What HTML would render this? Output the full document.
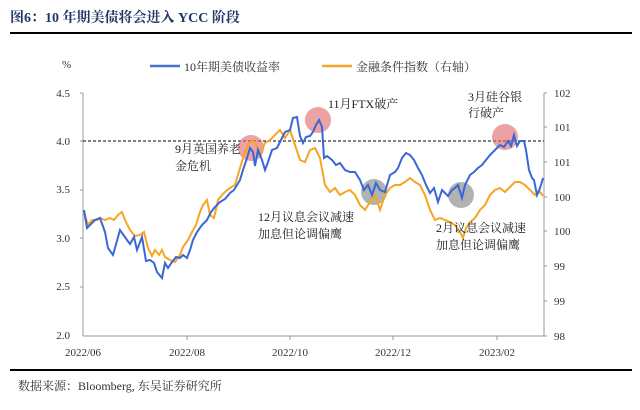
<!DOCTYPE html><html><head><meta charset="utf-8"><style>
body{margin:0;background:#fff;width:640px;height:405px;overflow:hidden;font-family:"Liberation Serif","Noto Serif CJK SC",serif}
</style></head><body>
<svg width="640" height="405" xmlns="http://www.w3.org/2000/svg" font-family="Liberation Serif, Noto Serif CJK SC, serif">
<text x="10" y="22" font-size="14" font-weight="bold" fill="#1f3864">图6：10 年期美债将会进入 YCC 阶段</text>
<line x1="10" y1="33" x2="632" y2="33" stroke="#000" stroke-width="2"/>
<text x="62" y="68" font-size="11" fill="#333">%</text>
<line x1="150" y1="66" x2="180" y2="66" stroke="#4472c4" stroke-width="2.5"/>
<text x="184" y="71" font-size="12" fill="#333">10年期美债收益率</text>
<line x1="322" y1="66" x2="352" y2="66" stroke="#f5a623" stroke-width="2.5"/>
<text x="356" y="71" font-size="12" fill="#333">金融条件指数（右轴）</text>
<g font-size="11" fill="#333">
<text x="70" y="97" text-anchor="end">4.5</text><text x="70" y="145" text-anchor="end">4.0</text><text x="70" y="193" text-anchor="end">3.5</text><text x="70" y="242" text-anchor="end">3.0</text><text x="70" y="290" text-anchor="end">2.5</text><text x="70" y="339" text-anchor="end">2.0</text>
<text x="554" y="97">102</text><text x="554" y="131">101</text><text x="554" y="166">101</text><text x="554" y="201">100</text><text x="554" y="235">100</text><text x="554" y="270">99</text><text x="554" y="305">99</text><text x="554" y="340">98</text>
<text x="83" y="356" text-anchor="middle">2022/06</text><text x="187" y="356" text-anchor="middle">2022/08</text><text x="290" y="356" text-anchor="middle">2022/10</text><text x="393" y="356" text-anchor="middle">2022/12</text><text x="497" y="356" text-anchor="middle">2023/02</text>
</g>
<g stroke="#999" stroke-width="1" fill="none">
<line x1="83" y1="93" x2="83" y2="336"/><line x1="83" y1="336" x2="544" y2="336"/><line x1="544" y1="93" x2="544" y2="336"/>
<line x1="80" y1="93" x2="83" y2="93"/><line x1="80" y1="141" x2="83" y2="141"/><line x1="80" y1="190" x2="83" y2="190"/><line x1="80" y1="238" x2="83" y2="238"/><line x1="80" y1="287" x2="83" y2="287"/>
<line x1="544" y1="93" x2="547" y2="93"/><line x1="544" y1="127" x2="547" y2="127"/><line x1="544" y1="162" x2="547" y2="162"/><line x1="544" y1="197" x2="547" y2="197"/><line x1="544" y1="231" x2="547" y2="231"/><line x1="544" y1="266" x2="547" y2="266"/><line x1="544" y1="301" x2="547" y2="301"/><line x1="544" y1="336" x2="547" y2="336"/>
<line x1="187" y1="336" x2="187" y2="340"/><line x1="290" y1="336" x2="290" y2="340"/><line x1="393" y1="336" x2="393" y2="340"/><line x1="497" y1="336" x2="497" y2="340"/>
</g>
<line x1="83" y1="141" x2="544" y2="141" stroke="#000" stroke-dasharray="3,2" stroke-width="1"/>
<g opacity="0.6">
<circle cx="251" cy="148" r="13" fill="#e06666"/><circle cx="318" cy="120" r="13" fill="#e06666"/><circle cx="505" cy="137" r="13" fill="#e06666"/>
<circle cx="374" cy="192" r="13" fill="#808080"/><circle cx="461" cy="195" r="13" fill="#808080"/>
</g>
<polyline fill="none" stroke="#f5a623" stroke-width="2" points="84,212 88,225 92,220 97,220 100,218 105,220 110,218 114,220 118,215 122,212 125,220 130,230 135,236 140,235 144,232 148,248 152,256 155,250 159,255 162,250 165,257 170,260 175,262 180,255 183,247 188,240 192,232 196,225 200,212 203,205 207,200 210,215 214,218 218,200 222,195 225,192 230,188 235,185 240,168 245,152 250,142 255,142 260,155 265,143 270,140 275,135 280,130 285,138 290,130 295,145 300,160 305,162 310,150 315,148 320,158 325,185 330,192 335,188 340,195 345,192 350,190 355,195 360,205 365,210 370,202 375,195 380,210 385,195 390,188 395,185 400,185 405,182 410,178 415,182 420,185 425,195 430,210 435,220 440,218 445,220 450,222 455,225 460,232 463,238 466,228 470,222 475,218 480,210 485,205 490,195 495,190 500,188 505,192 510,187 515,182 520,182 525,185 530,190 535,195 540,192 543,196"/>
<polyline fill="none" stroke="#3a66d6" stroke-width="2" points="84,210 87,228 95,220 100,218 105,232 108,248 113,255 120,230 127,240 130,244 134,237 137,250 142,237 146,261 150,260 154,263 157,272 162,278 165,263 168,268 172,262 176,257 180,258 183,255 187,258 190,250 193,240 197,232 202,225 207,220 211,212 215,207 220,202 225,199 230,193 234,190 237,185 240,180 243,170 247,158 250,148 253,152 255,166 258,150 262,160 265,170 268,162 272,150 277,148 281,140 285,132 290,130 293,118 297,117 300,136 303,143 306,137 310,136 313,132 316,125 319,120 322,127 324,158 327,156 332,160 336,165 340,163 345,170 350,172 355,172 360,180 364,190 368,185 372,195 376,183 380,190 385,192 390,175 395,172 398,168 402,158 406,153 410,155 414,160 418,168 422,175 426,185 430,193 434,188 438,202 442,190 448,196 452,190 455,188 458,185 462,198 465,185 470,175 474,172 478,168 482,165 486,160 490,155 495,150 500,145 504,147 508,141 511,146 514,135 517,146 520,141 524,141 526,150 529,170 532,178 534,180 537,195 540,188 543,178"/>
<g font-size="12" fill="#222">
<text x="175" y="153">9月英国养老</text><text x="175" y="170">金危机</text>
<text x="328" y="108">11月FTX破产</text>
<text x="468" y="101">3月硅谷银</text><text x="468" y="117">行破产</text>
<text x="258" y="221">12月议息会议减速</text><text x="258" y="238">加息但论调偏鹰</text>
<text x="436" y="232">2月议息会议减速</text><text x="436" y="249">加息但论调偏鹰</text>
</g>
<line x1="10" y1="370" x2="632" y2="370" stroke="#000" stroke-width="2"/>
<text x="18" y="390" font-size="12" fill="#333">数据来源：Bloomberg, 东吴证券研究所</text>
</svg></body></html>
